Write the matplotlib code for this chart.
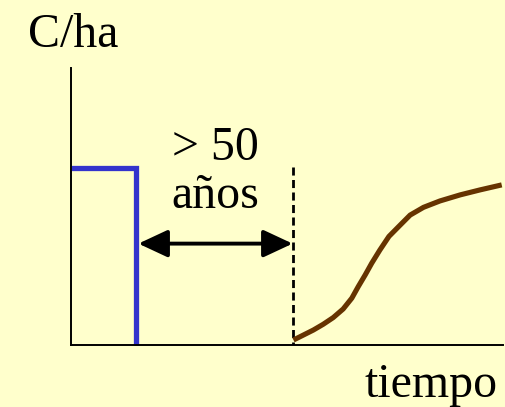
import numpy as np
import matplotlib.pyplot as plt
from matplotlib.patches import FancyArrowPatch

# Carbono por hectarea vs tiempo (unidades relativas, 0-100)
bosque_t = [0, 15, 15]
bosque_c = [64.0, 64.0, 0]

corte_t = 51.3
corte_top = 64.3

recup_t = [51.5, 53.8, 56.1, 58.4, 60.7, 63.0, 65.0, 66.5, 68.1, 69.6, 71.5,
           73.6, 76.2, 78.5, 81.6, 85.4, 90.1, 94.7, 99.7]
recup_c = [1.8, 3.6, 5.4, 7.5, 9.9, 13.0, 16.9, 21.1, 25.3, 29.5, 34.3,
           39.2, 43.3, 46.9, 49.7, 52.0, 54.2, 56.0, 57.8]

flecha_y = 36.6

bg = '#FFFFCC'
fig = plt.figure(figsize=(5.06, 4.07), dpi=100, facecolor=bg)
W, H = 506, 407
ax = fig.add_axes([71 / W, (H - 345) / H, (503 - 71) / W, (345 - 68) / H])
ax.set_facecolor(bg)
ax.set_xlim(0, 100)
ax.set_ylim(0, 100)
for s in ['top', 'right']:
    ax.spines[s].set_visible(False)
for s in ['left', 'bottom']:
    ax.spines[s].set_linewidth(1.4)
ax.set_xticks([])
ax.set_yticks([])

ax.plot(bosque_t, bosque_c, color='#3333CC', lw=3.8, solid_joinstyle='miter',
        solid_capstyle='butt', clip_on=False)
# linea de corte (de arriba hacia abajo)
ax.plot([corte_t, corte_t], [corte_top, 0], color='black', lw=2.0, ls=(0, (2.9, 1.6)))
ax.plot(recup_t, recup_c, color='#663300', lw=3.7, solid_capstyle='butt',
        solid_joinstyle='round', clip_on=False)

arr = FancyArrowPatch((15.6, flecha_y), (corte_t, flecha_y),
                      arrowstyle='<|-|>,head_length=0.75,head_width=0.35',
                      mutation_scale=24, lw=2.8, color='black', shrinkA=0, shrinkB=0)
ax.add_patch(arr)

font = dict(family='Liberation Serif', fontsize=34.5, color='black')
fig.text(28 / W, 1 - 47 / H, 'C/ha', ha='left', va='baseline', **font)
fig.text(215.5 / W, 1 - 160 / H, '> 50', ha='center', va='baseline', **font)
fig.text(215.5 / W, 1 - 208 / H, 'años', ha='center', va='baseline', **font)
fig.text(498 / W, 1 - 397 / H, 'tiempo', ha='right', va='baseline', **font)

fig.savefig('out.png', dpi=100, facecolor=bg)
